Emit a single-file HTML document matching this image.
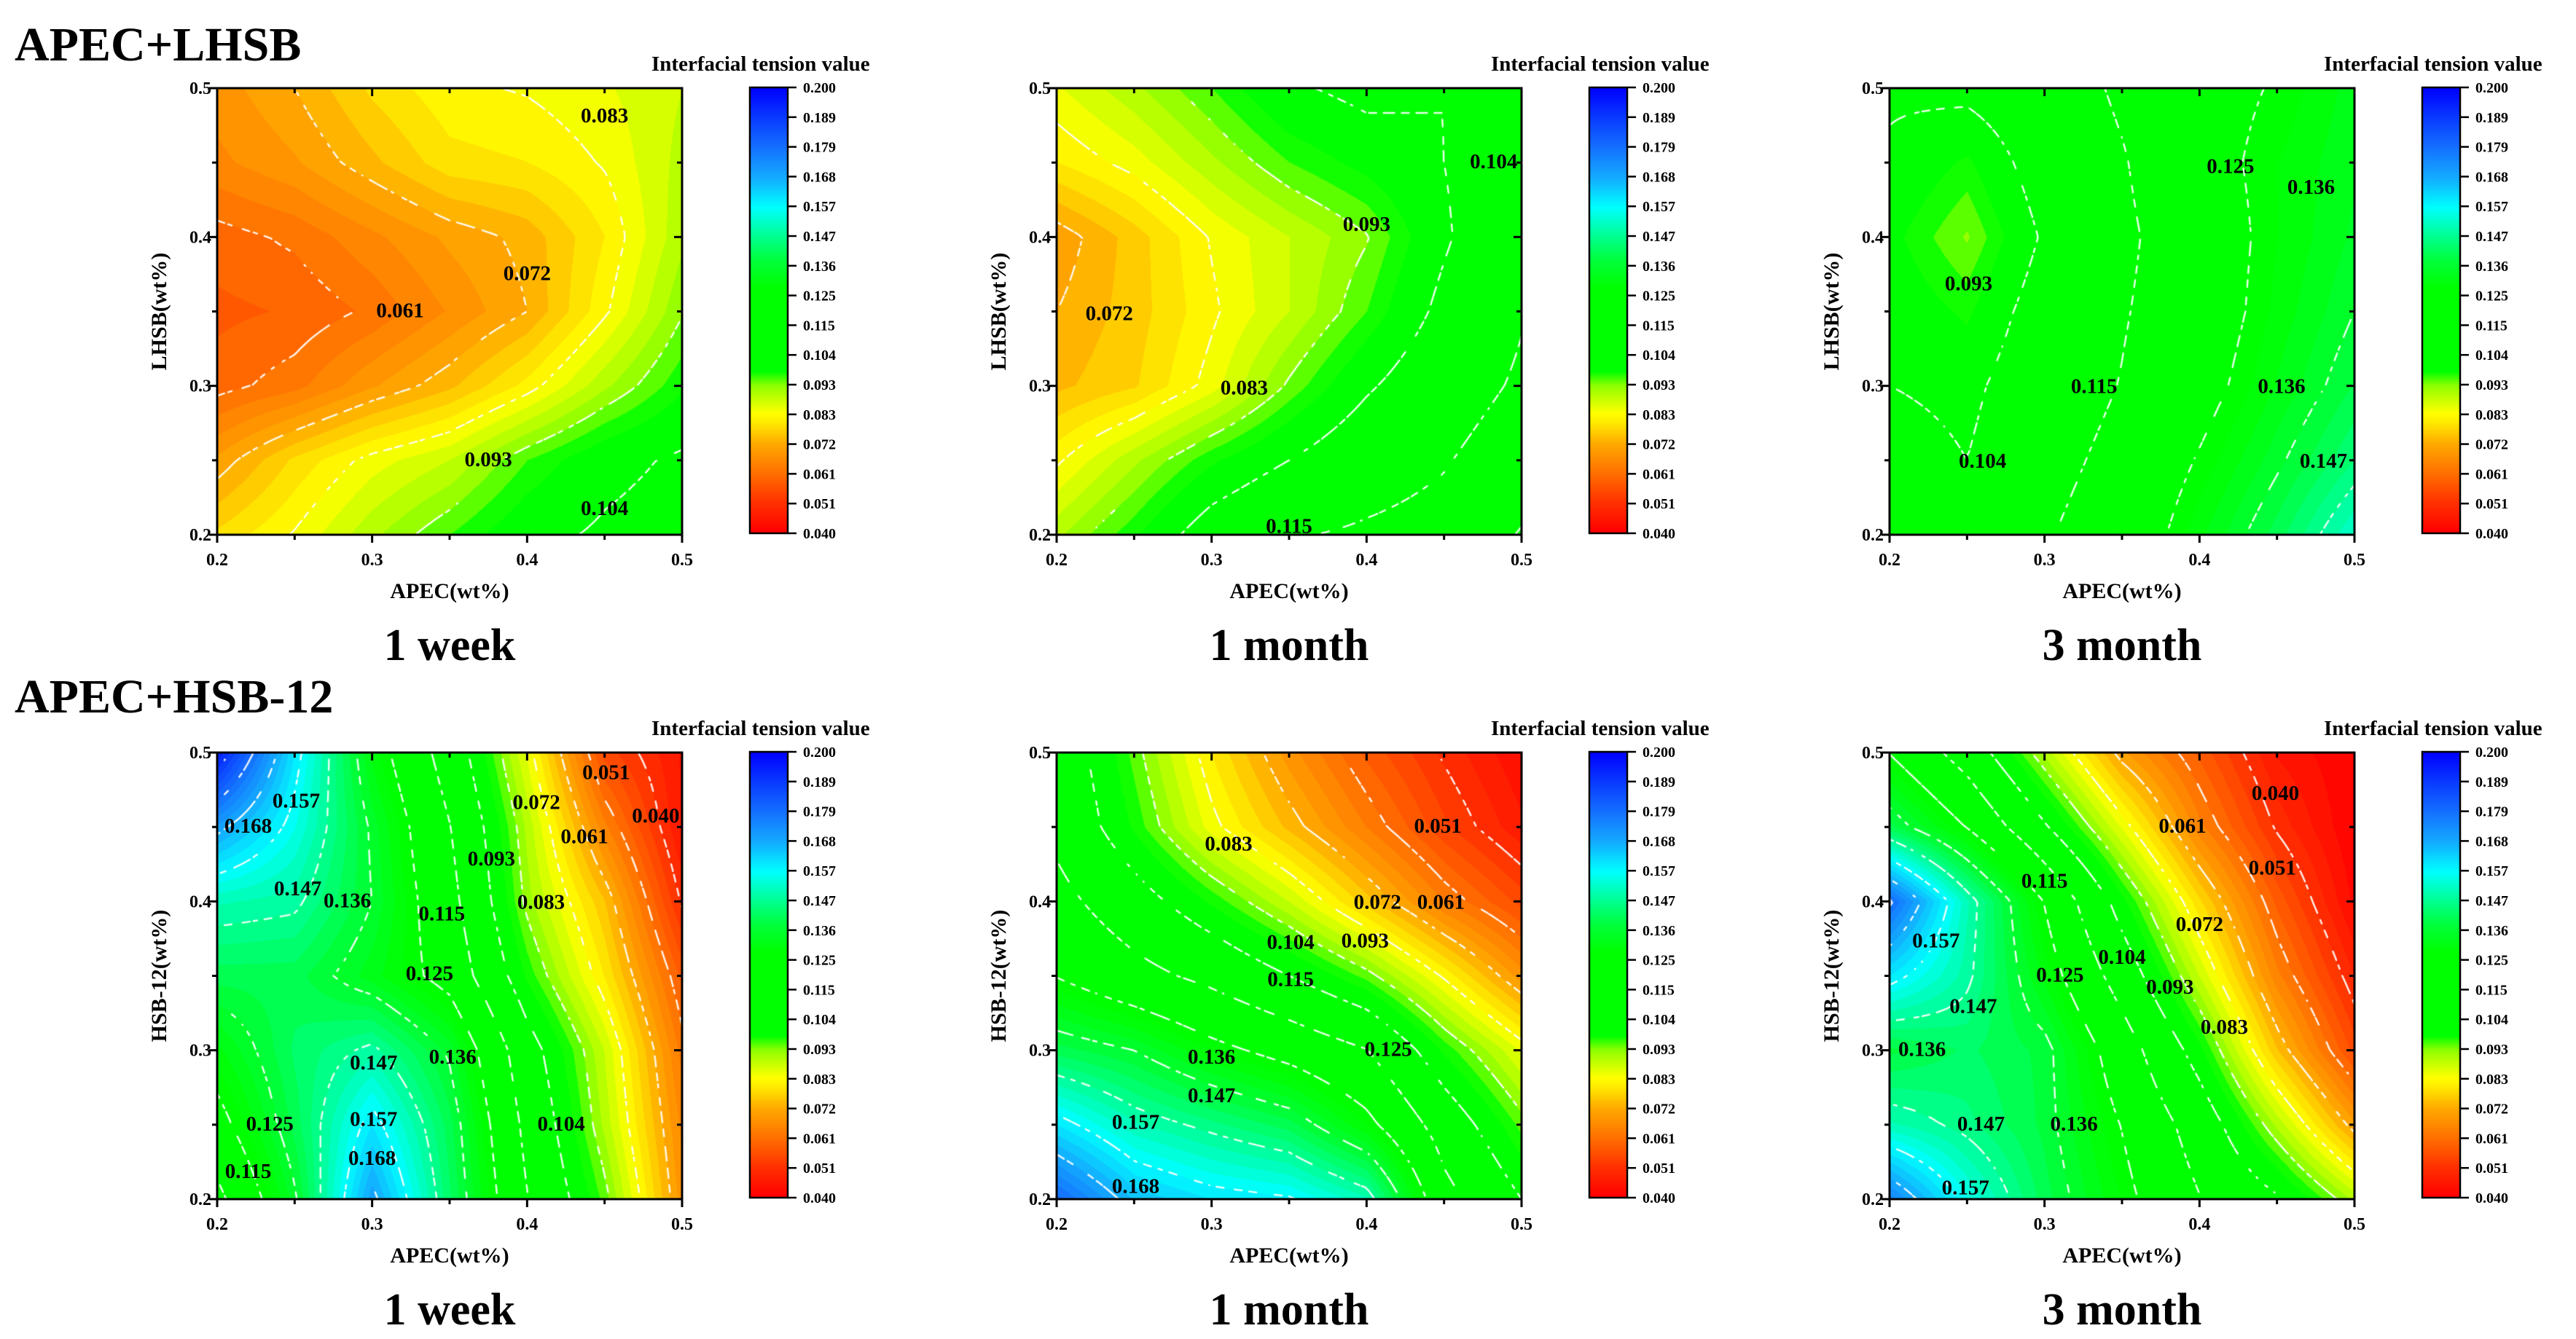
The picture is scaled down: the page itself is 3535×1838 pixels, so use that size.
<!DOCTYPE html>
<html><head><meta charset="utf-8">
<style>
html,body{margin:0;padding:0;background:#fff;}
#root{position:relative;width:3535px;height:1838px;overflow:hidden;background:#fff;}
canvas{position:absolute;}
svg{position:absolute;left:0;top:0;}
text{font-family:"Liberation Serif",serif;font-weight:bold;fill:#000;}
</style></head>
<body>
<div id="root">
<svg id="svg" width="3535" height="1838"></svg>
</div>
<script>
// grid axes (wt%)
const xs=[0.2,0.25,0.3,0.35,0.4,0.45,0.5];
const ys=[0.5,0.45,0.4,0.35,0.3,0.25,0.2];
// APEC+LHSB 1 week (rows top y=0.5 -> bottom y=0.2)
const gridA1=[
[0.068,0.072,0.078,0.082,0.083,0.085,0.088],
[0.066,0.069,0.074,0.079,0.080,0.083,0.089],
[0.060,0.062,0.066,0.070,0.073,0.080,0.090],
[0.058,0.059,0.062,0.067,0.072,0.082,0.093],
[0.060,0.063,0.069,0.074,0.081,0.090,0.098],
[0.070,0.078,0.084,0.088,0.096,0.102,0.105],
[0.078,0.083,0.090,0.096,0.102,0.105,0.107]];
const gridA2=[
[0.085,0.090,0.096,0.103,0.106,0.104,0.108],
[0.080,0.084,0.090,0.096,0.100,0.104,0.110],
[0.070,0.076,0.083,0.088,0.093,0.103,0.112],
[0.072,0.076,0.082,0.088,0.096,0.106,0.114],
[0.074,0.077,0.084,0.094,0.103,0.110,0.116],
[0.082,0.090,0.098,0.104,0.110,0.114,0.120],
[0.090,0.098,0.108,0.114,0.116,0.118,0.126]];
const gridA3=[
[0.105,0.106,0.110,0.116,0.122,0.126,0.132],
[0.103,0.098,0.108,0.114,0.122,0.128,0.133],
[0.100,0.093,0.105,0.113,0.120,0.128,0.134],
[0.102,0.098,0.108,0.114,0.120,0.129,0.136],
[0.104,0.102,0.110,0.115,0.122,0.131,0.139],
[0.108,0.104,0.112,0.117,0.126,0.135,0.144],
[0.112,0.108,0.114,0.119,0.130,0.140,0.152]];
const gridB1=[
[0.195,0.160,0.130,0.110,0.085,0.055,0.045],
[0.170,0.155,0.135,0.115,0.090,0.065,0.045],
[0.150,0.148,0.136,0.118,0.092,0.075,0.050],
[0.140,0.140,0.132,0.122,0.098,0.080,0.058],
[0.130,0.142,0.148,0.135,0.108,0.088,0.063],
[0.122,0.140,0.160,0.140,0.112,0.090,0.066],
[0.112,0.135,0.170,0.142,0.115,0.095,0.068]];
const gridB2=[
[0.110,0.095,0.080,0.068,0.058,0.050,0.043],
[0.112,0.098,0.084,0.074,0.064,0.054,0.046],
[0.118,0.108,0.098,0.088,0.076,0.064,0.055],
[0.125,0.118,0.112,0.104,0.095,0.082,0.068],
[0.140,0.136,0.128,0.122,0.115,0.098,0.085],
[0.160,0.150,0.145,0.140,0.128,0.110,0.095],
[0.180,0.165,0.160,0.158,0.150,0.118,0.104]];
const gridB3=[
[0.125,0.110,0.090,0.070,0.058,0.045,0.040],
[0.140,0.125,0.105,0.085,0.065,0.050,0.040],
[0.180,0.150,0.125,0.100,0.078,0.058,0.042],
[0.160,0.148,0.130,0.110,0.088,0.065,0.048],
[0.138,0.142,0.138,0.120,0.100,0.075,0.055],
[0.150,0.145,0.138,0.125,0.110,0.090,0.070],
[0.175,0.155,0.140,0.128,0.115,0.105,0.090]];
// contour labels: [text, x, y]
const labelsA1=[['0.083',0.45,0.482],['0.072',0.4,0.376],['0.061',0.318,0.351],['0.093',0.375,0.251],['0.104',0.45,0.218]];
const labelsA2=[['0.104',0.482,0.451],['0.093',0.4,0.409],['0.072',0.234,0.349],['0.083',0.321,0.299],['0.115',0.35,0.206]];
const labelsA3=[['0.125',0.42,0.448],['0.136',0.472,0.434],['0.093',0.251,0.369],['0.115',0.332,0.3],['0.136',0.453,0.3],['0.104',0.26,0.25],['0.147',0.48,0.25]];
const labelsB1=[['0.051',0.451,0.487],['0.040',0.483,0.458],['0.157',0.251,0.468],['0.168',0.22,0.451],['0.072',0.406,0.467],['0.061',0.437,0.444],['0.093',0.377,0.429],['0.147',0.252,0.409],['0.136',0.284,0.401],['0.115',0.345,0.392],['0.083',0.409,0.4],['0.125',0.337,0.352],['0.147',0.301,0.292],['0.136',0.352,0.296],['0.125',0.234,0.251],['0.157',0.301,0.254],['0.104',0.422,0.251],['0.115',0.22,0.219],['0.168',0.3,0.228]];
const labelsB2=[['0.051',0.446,0.451],['0.083',0.311,0.439],['0.072',0.407,0.4],['0.061',0.448,0.4],['0.104',0.351,0.373],['0.093',0.399,0.374],['0.115',0.351,0.348],['0.125',0.414,0.301],['0.136',0.3,0.296],['0.147',0.3,0.27],['0.157',0.251,0.252],['0.168',0.251,0.209]];
const labelsB3=[['0.040',0.449,0.473],['0.061',0.389,0.451],['0.051',0.447,0.423],['0.115',0.3,0.414],['0.072',0.4,0.385],['0.157',0.23,0.374],['0.104',0.35,0.363],['0.125',0.31,0.351],['0.093',0.381,0.343],['0.147',0.254,0.33],['0.083',0.416,0.316],['0.136',0.221,0.301],['0.147',0.259,0.251],['0.136',0.319,0.251],['0.157',0.249,0.208]];
const axisTicks=['0.2','0.3','0.4','0.5'];
const cbarTicks=['0.040','0.051','0.061','0.072','0.083','0.093','0.104','0.115','0.125','0.136','0.147','0.157','0.168','0.179','0.189','0.200'];
const cmin=0.040, cmax=0.200;

const cmap=[[0.040,255,0,0],[0.051,255,50,0],[0.061,255,110,0],[0.072,255,170,0],[0.080,255,238,0],[0.083,255,255,0],[0.088,200,255,0],[0.093,140,255,0],[0.098,0,255,0],[0.128,0,255,0],[0.138,0,255,60],[0.147,0,255,150],[0.157,0,255,255],[0.168,20,170,255],[0.179,20,110,255],[0.189,10,60,255],[0.200,0,0,255]];
function color(v){
  if(v<=cmap[0][0]) return cmap[0].slice(1);
  for(let i=1;i<cmap.length;i++){ if(v<=cmap[i][0]){const a=cmap[i-1],b=cmap[i],t=(v-a[0])/(b[0]-a[0]);return [a[1]+(b[1]-a[1])*t,a[2]+(b[2]-a[2])*t,a[3]+(b[3]-a[3])*t];}}
  return cmap[cmap.length-1].slice(1);
}
function field(g,u,w){
  const fx=u*(xs.length-1), fy=w*(ys.length-1);
  const i=Math.min(Math.floor(fx),xs.length-2), j=Math.min(Math.floor(fy),ys.length-2);
  const tx=fx-i, ty=fy-j;
  return g[j][i]*(1-tx)*(1-ty)+g[j][i+1]*tx*(1-ty)+g[j+1][i]*(1-tx)*ty+g[j+1][i+1]*tx*ty;
}
const svg=document.getElementById('svg');
const root=document.getElementById('root');
const NS='http://www.w3.org/2000/svg';
function el(tag,attrs,txt){const e=document.createElementNS(NS,tag);for(const k in attrs)e.setAttribute(k,attrs[k]);if(txt!==undefined)e.textContent=txt;svg.appendChild(e);return e;}

const PW=638, PH=613;
const panels=[
 {g:gridA1,l:labelsA1,ox:0,oy:0,yl:'LHSB(wt%)',sub:'1 week',id:'lhsb-1-week'},
 {g:gridA2,l:labelsA2,ox:1152,oy:0,yl:'LHSB(wt%)',sub:'1 month',id:'lhsb-1-month'},
 {g:gridA3,l:labelsA3,ox:2295,oy:0,yl:'LHSB(wt%)',sub:'3 month',id:'lhsb-3-month'},
 {g:gridB1,l:labelsB1,ox:0,oy:912,yl:'HSB-12(wt%)',sub:'1 week',id:'hsb12-1-week'},
 {g:gridB2,l:labelsB2,ox:1152,oy:912,yl:'HSB-12(wt%)',sub:'1 month',id:'hsb12-1-month'},
 {g:gridB3,l:labelsB3,ox:2295,oy:912,yl:'HSB-12(wt%)',sub:'3 month',id:'hsb12-3-month'}];

let t=el('text',{x:20,y:83,'font-size':66},'APEC+LHSB');


t=el('text',{x:20,y:978,'font-size':66},'APEC+HSB-12');



const levels=[];
for(let k=1;k<15;k++){const v=cmin+k*(cmax-cmin)/15;levels.push(v);}

panels.forEach(p=>{
  const L=298+p.ox, T=121+p.oy;
  const xScale=v=>L+(v-0.2)/0.3*PW;
  const yScale=v=>T+(0.5-v)/0.3*PH;
  const c=document.createElement('canvas');
  c.width=PW;c.height=PH;c.style.left=L+'px';c.style.top=T+'px';
  
  
  root.insertBefore(c,svg);
  const ctx=c.getContext('2d');
  const img=ctx.createImageData(PW,PH);
  for(let y=0;y<PH;y++)for(let x=0;x<PW;x++){
    const v=field(p.g,x/(PW-1),y/(PH-1));
    const vb=Math.floor((v-cmin)/0.00267)*0.00267+cmin+0.0013;
    const col=color(vb);const o=(y*PW+x)*4;
    img.data[o]=col[0];img.data[o+1]=col[1];img.data[o+2]=col[2];img.data[o+3]=255;}
  ctx.putImageData(img,0,0);
  const N=128, F=[];
  for(let j=0;j<=N;j++){F.push([]);for(let i=0;i<=N;i++)F[j].push(field(p.g,i/N,j/N));}
  const cw=PW/N, chh=PH/N;
  ctx.strokeStyle='rgba(255,255,255,0.9)';ctx.lineWidth=2.5;ctx.lineCap='round';
  levels.forEach(lv=>{
    ctx.beginPath();
    for(let j=0;j<N;j++)for(let i=0;i<N;i++){
      const a=F[j][i],b=F[j][i+1],cc=F[j+1][i+1],d=F[j+1][i];
      const pts=[];
      const X=i*cw, Y=j*chh;
      if((a<lv)!==(b<lv)) pts.push([X+cw*(lv-a)/(b-a),Y]);
      if((b<lv)!==(cc<lv)) pts.push([X+cw,Y+chh*(lv-b)/(cc-b)]);
      if((d<lv)!==(cc<lv)) pts.push([X+cw*(lv-d)/(cc-d),Y+chh]);
      if((a<lv)!==(d<lv)) pts.push([X,Y+chh*(lv-a)/(d-a)]);
      for(let k=0;k+1<pts.length;k+=2){
        const mx=(pts[k][0]+pts[k+1][0])/2,my=(pts[k][1]+pts[k+1][1])/2;
        if((Math.floor(mx/11)+Math.floor(my/11))%2===0){ctx.moveTo(pts[k][0],pts[k][1]);ctx.lineTo(pts[k+1][0],pts[k+1][1]);}
      }
    }
    ctx.stroke();
  });
  p.l.forEach(lb=>{
    const e=el('text',{x:xScale(lb[1]),y:yScale(lb[2])+10,'font-size':29,'text-anchor':'middle'},lb[0]);
    
    
  });
  let f=el('rect',{x:L,y:T,width:PW,height:PH,fill:'none',stroke:'#000','stroke-width':3});
  
  
  for(let k=0;k<7;k++){
    const v=0.2+k*0.05, len=(k%2===0)?11:7;
    const xp=xScale(v), yp=yScale(v);
    el('line',{x1:xp,y1:T+PH,x2:xp,y2:T+PH+len,stroke:'#000','stroke-width':3});
    el('line',{x1:xp,y1:T,x2:xp,y2:T+len,stroke:'#000','stroke-width':3});
    el('line',{x1:L,y1:yp,x2:L-len,y2:yp,stroke:'#000','stroke-width':3});
    el('line',{x1:L+PW,y1:yp,x2:L+PW-len,y2:yp,stroke:'#000','stroke-width':3});
  }
  axisTicks.forEach(s=>{
    const v=parseFloat(s);
    let e=el('text',{x:xScale(v),y:T+PH+42,'font-size':24,'text-anchor':'middle'},s);
    
    
    e=el('text',{x:L-8,y:yScale(v)+8,'font-size':24,'text-anchor':'end'},s);
    
    
  });
  let e=el('text',{x:L+PW/2,y:T+PH+87,'font-size':30,'text-anchor':'middle'},'APEC(wt%)');
  
  
  e=el('text',{x:0,y:0,'font-size':30,'text-anchor':'middle',transform:`translate(${L-70},${T+PH/2}) rotate(-90)`},p.yl);
  
  
  e=el('text',{x:L+PW/2,y:T+PH+172,'font-size':62,'text-anchor':'middle'},p.sub);
  
  
  const CL=L+731, CT=T-1, CW=52, CH=612;
  const cb=document.createElement('canvas');
  cb.width=CW;cb.height=CH;cb.style.left=CL+'px';cb.style.top=CT+'px';
  
  
  root.insertBefore(cb,svg);
  const cx=cb.getContext('2d');
  for(let y=0;y<CH;y++){const v=cmax-(y/(CH-1))*(cmax-cmin);const col=color(v);cx.fillStyle=`rgb(${col[0]|0},${col[1]|0},${col[2]|0})`;cx.fillRect(0,y,CW,1);}
  el('rect',{x:CL,y:CT,width:CW,height:CH,fill:'none',stroke:'#000','stroke-width':2.5});
  cbarTicks.forEach((s,k)=>{
    const yy=CT+CH-k*CH/(cbarTicks.length-1);
    el('line',{x1:CL+CW,y1:yy,x2:CL+CW+12,y2:yy,stroke:'#000','stroke-width':2.5});
    const q=el('text',{x:CL+CW+21,y:yy+7,'font-size':20},s);
    
    
  });
  e=el('text',{x:L+596,y:T-24,'font-size':29},'Interfacial tension value');
  
  
});
</script>
</body></html>
